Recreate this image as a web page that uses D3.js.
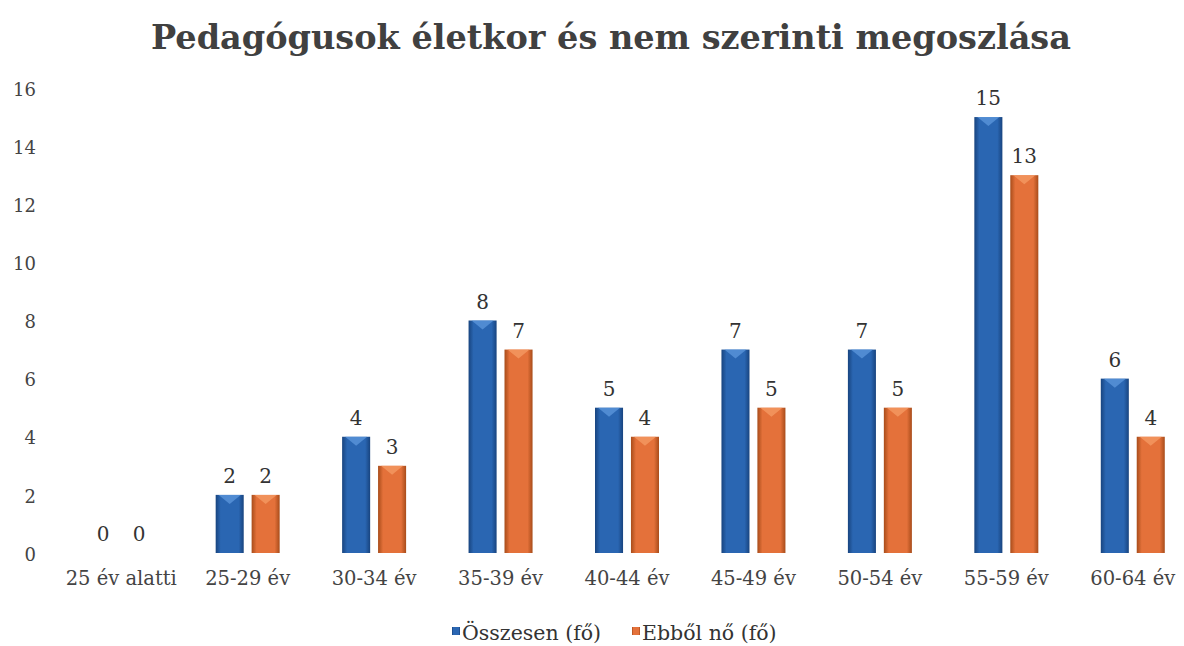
<!DOCTYPE html>
<html>
<head>
<meta charset="utf-8">
<script src="https://cdn.jsdelivr.net/npm/d3@7"></script>
<style>
  body { margin: 0; background: #fff; }
  text { font-family: Georgia, "DejaVu Serif", serif; fill: #333; }
</style>
</head>
<body>
<svg id="chart" width="1184" height="646"></svg>
<script>
var categories = ["25 év alatti", "25-29 év", "30-34 év", "35-39 év", "40-44 év", "45-49 év", "50-54 év", "55-59 év", "60-64 év"];
var osszesen = [0, 2, 4, 8, 5, 7, 7, 15, 6];
var ebbolNo = [0, 2, 3, 7, 4, 5, 5, 13, 4];
var seriesNames = ["Összesen (fő)", "Ebből nő (fő)"];
var yTicks = [0, 2, 4, 6, 8, 10, 12, 14, 16];

var svg = d3.select("#chart");

var x = d3.scaleBand().domain(categories).range([58, 1196]).paddingInner(0.494).paddingOuter(0.247);
var x1 = d3.scaleBand().domain([0, 1]).range([0, x.bandwidth()]).paddingInner(0.22);
var y = d3.scaleLinear().domain([0, 16]).range([553, 88]);

var colors = [
  {edge: "#18447f", mid: "#2a66b2", light: "#5d98dc"},
  {edge: "#a84c1a", mid: "#e4713a", light: "#f59c66"}
];

var defs = svg.append("defs");
colors.forEach(function(c, i) {
  var g = defs.append("linearGradient").attr("id", "grad" + i)
    .attr("x1", "0").attr("x2", "1").attr("y1", "0").attr("y2", "0");
  g.append("stop").attr("offset", "0").attr("stop-color", c.edge);
  g.append("stop").attr("offset", "0.18").attr("stop-color", c.mid);
  g.append("stop").attr("offset", "0.82").attr("stop-color", c.mid);
  g.append("stop").attr("offset", "1").attr("stop-color", c.edge);
});

// title
svg.append("text")
  .attr("x", 611).attr("y", 49)
  .attr("text-anchor", "middle")
  .style("font-size", "33.5px").style("font-weight", "bold")
  .style("fill", "#404040")
  .text("Pedagógusok életkor és nem szerinti megoszlása");

// y axis
var yAxis = svg.append("g")
  .attr("transform", "translate(36,0)")
  .call(d3.axisLeft(y).tickValues(yTicks).tickSize(0).tickPadding(0));
yAxis.select(".domain").remove();
yAxis.selectAll("text").style("font-size", "18px").style("fill", "#444").attr("dy", "0.4em");

// x axis
var xAxis = svg.append("g")
  .attr("transform", "translate(0,572)")
  .call(d3.axisBottom(x).tickSize(0).tickPadding(0));
xAxis.select(".domain").remove();
xAxis.selectAll("text").style("font-size", "19.5px").style("fill", "#444").attr("dy", "0.65em");

var data = categories.map(function(c, i) { return {cat: c, vals: [osszesen[i], ebbolNo[i]]}; });

var groups = svg.append("g").selectAll("g").data(data).join("g")
  .attr("transform", function(d) { return "translate(" + x(d.cat) + ",0)"; });

groups.each(function(d) {
  var g = d3.select(this);
  d.vals.forEach(function(v, s) {
    var bx = x1(s), bw = x1.bandwidth(), top = y(v), h = y(0) - y(v);
    if (h > 0) {
      g.append("rect")
        .attr("x", bx).attr("y", top).attr("width", bw).attr("height", h)
        .attr("fill", "url(#grad" + s + ")");
      // bevel highlight at top
      g.append("path")
        .attr("d", "M" + (bx + 3) + "," + top + "L" + (bx + bw - 3) + "," + top + "L" + (bx + bw / 2) + "," + (top + 9) + "Z")
        .attr("fill", colors[s].light).attr("opacity", 0.75);
    }
    g.append("text")
      .attr("x", bx + bw / 2).attr("y", top - 12)
      .attr("text-anchor", "middle")
      .style("font-size", "20px").style("fill", "#333")
      .text(v);
  });
});

// legend
var legend = svg.append("g");
var lx = [452, 632];
seriesNames.forEach(function(n, i) {
  legend.append("rect").attr("x", lx[i]).attr("y", 627).attr("width", 8).attr("height", 8)
    .attr("fill", "url(#grad" + i + ")");
  legend.append("text").attr("x", lx[i] + 10).attr("y", 640)
    .style("font-size", "20.5px").style("fill", "#333").text(n);
});
</script>
</body>
</html>
